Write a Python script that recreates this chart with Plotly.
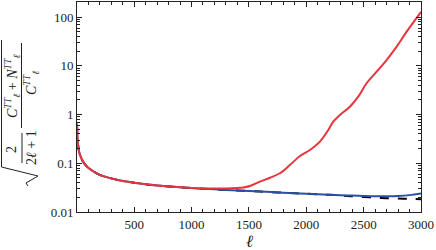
import plotly.graph_objects as go

# multipole values (shared low-ell part)
ell_low = [2, 3, 5, 8, 12, 20, 30, 50, 75, 100, 150, 200, 300, 400, 500, 600, 700, 800, 900, 1000, 1100, 1200]
val_low = [0.65, 0.52, 0.38, 0.29, 0.23, 0.175, 0.145, 0.113, 0.093, 0.081, 0.067, 0.058, 0.049, 0.0435,
           0.040, 0.037, 0.035, 0.0335, 0.0322, 0.031, 0.0300, 0.0292]

# red: with noise (total)
ell_red = ell_low[:-2] + [1100, 1200, 1300, 1400, 1450, 1509, 1596, 1683, 1770, 1857, 1945, 2032, 2119, 2192,
                          2235, 2293, 2380, 2453, 2526, 2613, 2700, 2788, 2875, 2991, 3000]
val_red = val_low[:-2] + [0.0305, 0.0303, 0.0305, 0.0312, 0.0318, 0.0342, 0.0419, 0.0506, 0.0624, 0.092, 0.141,
                          0.1875, 0.278, 0.483, 0.715, 0.98, 1.45, 2.33, 4.4, 7.6, 13.2, 24.8, 50.4, 120, 128]

# blue: lower-noise case
ell_blue = ell_low + [1300, 1400, 1500, 1600, 1700, 1800, 1900, 2000, 2100, 2200, 2300, 2400, 2500, 2600,
                      2700, 2800, 2900, 3000]
val_blue = val_low + [0.0284, 0.0277, 0.0270, 0.0263, 0.0256, 0.0249, 0.0243, 0.0237, 0.0231, 0.0226, 0.0221,
                      0.0217, 0.0213, 0.0210, 0.0210, 0.0213, 0.0222, 0.0240]

# black dashed: cosmic variance only
ell_cv = ell_low + [1300, 1400, 1500, 1600, 1700, 1800, 1900, 2000, 2100, 2200, 2300, 2400, 2500, 2600,
                    2700, 2800, 2900, 3000]
val_cv = val_low + [0.0284, 0.0277, 0.0270, 0.0263, 0.0256, 0.0249, 0.0243, 0.0237, 0.0231, 0.0225, 0.0219,
                    0.0210, 0.0203, 0.0197, 0.0192, 0.0189, 0.0186, 0.0183]

ytick_vals = [0.01, 0.1, 1, 10, 100]
ytick_text = ["0.01", "0.1", "1", "10", "100"]
xtick_vals = [500, 1000, 1500, 2000, 2500, 3000]

fig = go.Figure()
fig.add_trace(go.Scatter(x=ell_cv, y=val_cv, mode="lines",
                         line=dict(color="black", width=2, dash="dash", shape="spline")))
fig.add_trace(go.Scatter(x=ell_blue, y=val_blue, mode="lines",
                         line=dict(color="#2b4ea6", width=2, shape="spline")))
fig.add_trace(go.Scatter(x=ell_red, y=val_red, mode="lines",
                         line=dict(color="#e8343c", width=2, shape="spline")))

W, H = 436, 250
L, R, T, B = 77, 15, 2, 38
pw, ph = W - L - R, H - T - B

def px(x):
    return (x - L) / pw

def py(y):
    return (H - B - y) / ph

font = "Liberation Serif, DejaVu Serif, serif"
axis_common = dict(showline=True, linecolor="#222", linewidth=1, mirror="ticks", ticks="inside",
                   tickcolor="#222", ticklen=5, tickwidth=1, showgrid=False, zeroline=False,
                   tickfont=dict(family=font, size=13, color="#222"))

fig.update_layout(
    width=W, height=H, margin=dict(l=L, r=R, t=T, b=B),
    paper_bgcolor="white", plot_bgcolor="white", showlegend=False,
    xaxis=dict(range=[2, 3000], tickvals=xtick_vals,
               minor=dict(ticks="inside", ticklen=3, tickcolor="#222", dtick=100),
               **axis_common),
    yaxis=dict(type="log", range=[-2, 2.312], tickvals=ytick_vals, ticktext=ytick_text,
               minor=dict(ticks="inside", ticklen=3, tickcolor="#222",
                          tickvals=[a * b for b in [0.01, 0.1, 1, 10, 100] for a in range(2, 10)]),
               **axis_common),
)

def label(text, x, y, size=14):
    fig.add_annotation(text=text, x=px(x), y=py(y), xref="paper", yref="paper", showarrow=False,
                       textangle=-90, xanchor="center", yanchor="middle",
                       font=dict(family=font, size=size, color="#222"))

label("2", 11, 150)
label("2<i>ℓ</i> + 1", 31, 148)
label("<i>C</i><sup><i>TT</i></sup><sub><i>ℓ</i></sub> + <i>N</i><sup><i>TT</i></sup><sub><i>ℓ</i></sub>", 12, 86)
label("<i>C</i><sup><i>TT</i></sup><sub><i>ℓ</i></sub>", 31, 83)

# fraction bars and radical sign
fig.add_shape(type="line", xref="paper", yref="paper", x0=px(21.5), x1=px(21.5), y0=py(43), y1=py(128),
              line=dict(color="#222", width=1))
fig.add_shape(type="line", xref="paper", yref="paper", x0=px(22), x1=px(22), y0=py(133), y1=py(163),
              line=dict(color="#222", width=1))
pts = [(1.5, 40), (1.5, 167), (38, 176), (26, 183), (28, 186)]
path = "M " + " L ".join(f"{px(a)},{py(b)}" for a, b in pts)
fig.add_shape(type="path", xref="paper", yref="paper", path=path, line=dict(color="#222", width=1))

fig.add_annotation(text="<i>ℓ</i>", x=px(249), y=py(241), xref="paper", yref="paper", showarrow=False,
                   xanchor="center", yanchor="middle", font=dict(family=font, size=17, color="#222"))

fig.write_html("out.html", config={"displayModeBar": False},
               post_script="document.body.style.margin='0';document.body.style.padding='0';")
